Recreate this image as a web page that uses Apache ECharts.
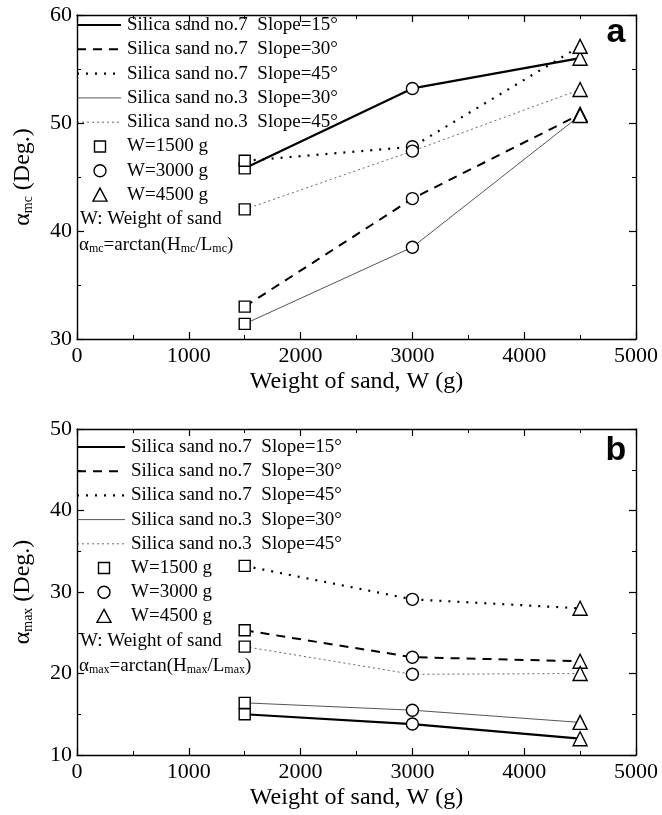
<!DOCTYPE html>
<html>
<head>
<meta charset="utf-8">
<script src="https://cdn.jsdelivr.net/npm/echarts@6/dist/echarts.min.js"></script>
<style>
  html, body { margin: 0; padding: 0; background: #fff; }
  #chart { width: 662px; height: 815px; }
</style>
</head>
<body>
<div id="chart"></div>
<script>
// Sand weights (g) and the marker used for each weight
const weights = [1500, 3000, 4500];
const weightSymbols = ['rect', 'circle', 'triangle'];
const weightLabels = ['W=1500 g', 'W=3000 g', 'W=4500 g'];

// Series names (sand type and slope)
const seriesNames = [
  'Silica sand no.7  Slope=15°',
  'Silica sand no.7  Slope=30°',
  'Silica sand no.7  Slope=45°',
  'Silica sand no.3  Slope=30°',
  'Silica sand no.3  Slope=45°'
];

// Panel a: alpha_mc (deg)
const mcNo7S15 = [45.8, 53.2, 56.0];
const mcNo7S30 = [33.0, 43.0, 50.8];
const mcNo7S45 = [46.5, 47.8, 57.1];
const mcNo3S30 = [31.4, 38.5, 50.7];
const mcNo3S45 = [42.0, 47.4, 53.1];

// Panel b: alpha_max (deg)
const maxNo7S15 = [15.0, 13.8, 12.0];
const maxNo7S30 = [25.3, 22.0, 21.5];
const maxNo7S45 = [33.2, 29.1, 28.0];
const maxNo3S30 = [16.4, 15.5, 14.0];
const maxNo3S45 = [23.3, 19.9, 20.0];

// Axis ranges
const xMin = 0, xMax = 5000, xStep = 1000;
const yA = { min: 30, max: 60, step: 10 };
const yB = { min: 10, max: 50, step: 10 };

// Line appearance per series (same order as seriesNames)
const lineStyles = [
  { color: '#000', width: 2.2, type: 'solid' },
  { color: '#000', width: 2, type: [9, 7] },
  { color: '#000', width: 2.2, type: [2, 7] },
  { color: '#555', width: 1, type: 'solid' },
  { color: '#666', width: 1, type: [2, 3] }
];

const SERIF = '"Liberation Serif", "Times New Roman", serif';
const SANS = '"Liberation Sans", Arial, sans-serif';

const grids = [
  { left: 77, right: 26, top: 15, height: 324 },
  { left: 77, right: 26, top: 429, height: 326 }
];

function symbolSizeFor(sym) {
  return sym === 'triangle' ? 14 : (sym === 'rect' ? 11 : 12);
}

function makeSeries(name, values, idx, axisIdx) {
  return {
    type: 'line',
    name: name,
    xAxisIndex: axisIdx,
    yAxisIndex: axisIdx,
    data: values.map((v, i) => ({
      value: [weights[i], v],
      symbol: weightSymbols[i],
      symbolSize: symbolSizeFor(weightSymbols[i])
    })),
    showAllSymbol: true,
    lineStyle: lineStyles[idx],
    itemStyle: { color: '#fff', borderColor: '#000', borderWidth: 1.4 },
    emphasis: { disabled: true },
    animation: false,
    z: 3
  };
}

function xAxisPair(gridIndex, nameText) {
  const common = {
    type: 'value', gridIndex: gridIndex, min: xMin, max: xMax, interval: xStep,
    axisLine: { show: true, onZero: false, lineStyle: { color: '#000', width: 1.4 } },
    axisTick: { show: true, inside: true, length: 7, lineStyle: { color: '#000', width: 1.2 } },
    minorTick: { show: true, splitNumber: 2, length: 4, lineStyle: { color: '#000', width: 1 } },
    splitLine: { show: false }
  };
  return [
    Object.assign({}, common, {
      position: 'bottom',
      name: nameText, nameLocation: 'middle', nameGap: 31,
      nameTextStyle: { fontFamily: SERIF, fontSize: 24, color: '#000' },
      axisLabel: { fontFamily: SERIF, fontSize: 22, color: '#000', margin: 6, formatter: v => String(v) }
    }),
    Object.assign({}, common, { position: 'top', axisLabel: { show: false } })
  ];
}

function yAxisPair(gridIndex, range, sub) {
  const common = {
    type: 'value', gridIndex: gridIndex, min: range.min, max: range.max, interval: range.step,
    axisLine: { show: true, onZero: false, lineStyle: { color: '#000', width: 1.4 } },
    axisTick: { show: true, inside: true, length: 7, lineStyle: { color: '#000', width: 1.2 } },
    minorTick: { show: true, splitNumber: 2, length: 4, lineStyle: { color: '#000', width: 1 } },
    splitLine: { show: false }
  };
  return [
    Object.assign({}, common, {
      position: 'left',
      name: '{m|α}{s|' + sub + '}{m| (Deg.)}',
      nameLocation: 'middle', nameGap: 42, nameRotate: 90,
      nameTextStyle: {
        rich: {
          m: { fontFamily: SERIF, fontSize: 24, color: '#000' },
          s: { fontFamily: SERIF, fontSize: 14, color: '#000', verticalAlign: 'bottom', padding: [10, 0, 0, 0] }
        }
      },
      axisLabel: { fontFamily: SERIF, fontSize: 22, color: '#000', margin: 5 }
    }),
    Object.assign({}, common, { position: 'right', axisLabel: { show: false } })
  ];
}

// Legend graphics drawn inside each plot
function legendGraphics(g, opts) {
  const items = [];
  const x0 = g.left;
  lineStyles.forEach((ls, i) => {
    const y = g.top + opts.firstRow + i * opts.rowGap;
    items.push({
      type: 'line', silent: true,
      shape: { x1: x0, y1: y, x2: x0 + opts.sampleLen, y2: y },
      style: { stroke: ls.color, lineWidth: ls.width, lineDash: ls.type === 'solid' ? null : ls.type }
    });
    items.push({
      type: 'text', silent: true, x: opts.textX, y: y,
      style: { text: seriesNames[i], fontFamily: SERIF, fontSize: 19, fill: '#000', verticalAlign: 'middle' }
    });
  });
  weightLabels.forEach((lab, i) => {
    const y = g.top + opts.firstRow + (5 + i) * opts.rowGap;
    items.push({
      type: 'text', silent: true, x: opts.textX, y: y,
      style: { text: lab, fontFamily: SERIF, fontSize: 19, fill: '#000', verticalAlign: 'middle' }
    });
  });
  const yW = g.top + opts.firstRow + 8 * opts.rowGap;
  items.push({
    type: 'text', silent: true, x: x0 + 3, y: yW,
    style: { text: 'W: Weight of sand', fontFamily: SERIF, fontSize: 19, fill: '#000', verticalAlign: 'middle' }
  });
  const s = opts.sub;
  items.push({
    type: 'text', silent: true, x: x0 + 2, y: yW + opts.rowGap + 1,
    style: {
      text: '{m|α}{s|' + s + '}{m|=arctan(H}{s|' + s + '}{m|/L}{s|' + s + '}{m|)}',
      verticalAlign: 'middle',
      rich: {
        m: { fontFamily: SERIF, fontSize: 19, fill: '#000' },
        s: { fontFamily: SERIF, fontSize: 12, fill: '#000', verticalAlign: 'bottom', padding: [8, 0, 0, 0] }
      }
    }
  });
  items.push({
    type: 'text', silent: true, x: 616, y: g.top + opts.panelY,
    style: { text: opts.panel, fontFamily: SANS, fontWeight: 'bold', fontSize: 34, fill: '#000', align: 'center', verticalAlign: 'middle' }
  });
  return items;
}

// Weight marker symbols drawn as graphic samples in each legend
function markerSamples(g, opts, cx) {
  const out = [];
  weightSymbols.forEach((sym, i) => {
    const y = g.top + opts.firstRow + (5 + i) * opts.rowGap;
    let el;
    if (sym === 'rect') {
      el = { type: 'rect', shape: { x: cx - 5.5, y: y - 5.5, width: 11, height: 11 } };
    } else if (sym === 'circle') {
      el = { type: 'circle', shape: { cx: cx, cy: y, r: 6 } };
    } else {
      el = { type: 'polygon', shape: { points: [[cx, y - 7], [cx + 7, y + 6], [cx - 7, y + 6]] } };
    }
    el.silent = true;
    el.style = { fill: '#fff', stroke: '#000', lineWidth: 1.4 };
    out.push(el);
  });
  return out;
}

const chart = echarts.init(document.getElementById('chart'), null, { renderer: 'canvas' });

const xAxes = [].concat(xAxisPair(0, 'Weight of sand, W (g)'), xAxisPair(1, 'Weight of sand, W (g)'));
const yAxes = [].concat(yAxisPair(0, yA, 'mc'), yAxisPair(1, yB, 'max'));

const panelA = [mcNo7S15, mcNo7S30, mcNo7S45, mcNo3S30, mcNo3S45];
const panelB = [maxNo7S15, maxNo7S30, maxNo7S45, maxNo3S30, maxNo3S45];

const series = [];
panelA.forEach((vals, i) => series.push(makeSeries(seriesNames[i], vals, i, 0)));
panelB.forEach((vals, i) => series.push(makeSeries(seriesNames[i], vals, i, 2)));

const optsA = { firstRow: 10, rowGap: 24.3, sampleLen: 44, textX: 127, sub: 'mc', panel: 'a', panelY: 18 };
const optsB = { firstRow: 18, rowGap: 24.2, sampleLen: 48, textX: 131, sub: 'max', panel: 'b', panelY: 22 };

const graphics = [].concat(
  legendGraphics(grids[0], optsA), markerSamples(grids[0], optsA, 100),
  legendGraphics(grids[1], optsB), markerSamples(grids[1], optsB, 104)
);

chart.setOption({
  backgroundColor: '#fff',
  animation: false,
  grid: grids,
  xAxis: xAxes.map((a, i) => Object.assign(a, { gridIndex: Math.floor(i / 2) })),
  yAxis: yAxes.map((a, i) => Object.assign(a, { gridIndex: Math.floor(i / 2) })),
  series: series,
  graphic: graphics
});
</script>
</body>
</html>
